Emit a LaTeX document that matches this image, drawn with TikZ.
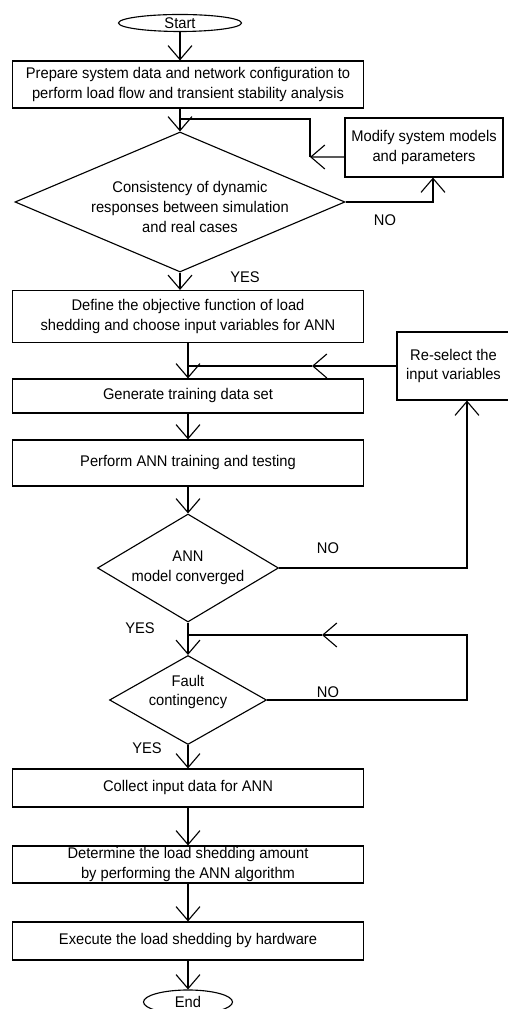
\documentclass[tikz,border=0pt]{standalone}
\usepackage{fontspec}
\setmainfont{Liberation Sans}[FakeStretch=0.95]
\usetikzlibrary{shapes.geometric,arrows.meta}

\begin{document}
\begin{tikzpicture}[x=1cm,y=1cm,line width=.8pt,font=\fontsize{11}{14.2}\selectfont,
  box/.style={draw,rectangle,minimum width=8.76cm,inner sep=0pt,align=center},
  decision/.style={draw,diamond,inner sep=0pt},
  terminal/.style={draw,ellipse,inner sep=0pt},
  arr/.style={-{Straight Barb[length=3.5mm,width=6mm]}},
  lbl/.style={inner sep=1pt}]
\useasboundingbox (0,0) rectangle (12.7,25.225);
\node[terminal,minimum width=3.075cm,minimum height=.425cm] (start) at (4.5000,24.6500) {Start};
\node[box,minimum height=1.175cm] (prep) at (4.7000,23.1125) {Prepare system data and network configuration to\\perform load flow and transient stability analysis};
\node[box,minimum width=3.95cm,minimum height=1.475cm] (modify) at (10.6000,21.5375) {Modify system models\\and parameters};
\node[decision,minimum width=8.25cm,minimum height=3.5cm,label={[align=center,xshift=2.5mm,yshift=-1.2mm]center:{Consistency of dynamic\\responses between simulation\\and real cases}}] (consist) at (4.5000,20.1750) {};
\node[box,minimum height=1.3cm] (define) at (4.7000,17.3125) {Define the objective function of load\\shedding and choose input variables for ANN};
\node[box,minimum height=.85cm] (gen) at (4.7000,15.3250) {Generate training data set};
\node[box,minimum width=2.825cm,minimum height=1.7cm] (resel) at (11.3375,16.0750) {Re-select the\\input variables};
\node[box,minimum height=1.15cm] (train) at (4.7000,13.6500) {Perform ANN training and testing};
\node[decision,minimum width=4.525cm,minimum height=2.7cm,label={[align=center]center:{ANN\\model converged}}] (conv) at (4.7000,11.0250) {};
\node[decision,minimum width=3.925cm,minimum height=2.225cm,label={[align=center,yshift=2mm]center:{Fault\\contingency}}] (fault) at (4.7000,7.7250) {};
\node[box,minimum height=.95cm] (collect) at (4.7000,5.5250) {Collect input data for ANN};
\node[box,minimum height=.925cm] (determ) at (4.7000,3.6125) {Determine the load shedding amount\\by performing the ANN algorithm};
\node[box,minimum height=.95cm] (exec) at (4.7000,1.7000) {Execute the load shedding by hardware};
\node[terminal,minimum width=2.225cm,minimum height=.6cm] (stop) at (4.7000,.1750) {End};
\coordinate (j1) at (4.5000,22.2500);
\coordinate (c1) at (7.7500,21.3000);
\coordinate (j2) at (4.7000,16.0750);
\coordinate (c2) at (7.8000,16.0750);
\coordinate (j3) at (4.7000,9.3500);
\coordinate (c3) at (8.0500,9.3500);
\coordinate (r3) at (11.6750,9.3500);
\draw[arr] (start.south) -- (start.south |- prep.north);
\draw[arr] (prep.south -| start) -- (consist.north);
\draw[arr] (consist.east) -| ([xshift=2.25mm]modify.south);
\draw[arr] ([yshift=-2.375mm]modify.west) -- (c1);
\draw (c1) |- (j1);
\draw[arr] (consist.south) -- (consist.south |- define.north);
\draw[arr] (define.south) -- (gen.north);
\draw[arr] (resel.west) -- (c2);
\draw (c2) -- (j2);
\draw[arr] (gen.south) -- (train.north);
\draw[arr] (train.south) -- (conv.north);
\draw[arr] (conv.east) -| ([xshift=3.375mm]resel.south);
\draw[arr] (conv.south) -- (fault.north);
\draw[arr] (fault.east) -| (r3) -- (c3);
\draw (c3) -- (j3);
\draw[arr] (fault.south) -- (collect.north);
\draw[arr] (collect.south) -- (determ.north);
\draw[arr] (determ.south) -- (exec.north);
\draw[arr] (exec.south) -- (stop.north);
\node[lbl] (no1) at (9.6250,19.7250) {NO};
\node[lbl] (yes1) at (6.1250,18.3000) {YES};
\node[lbl] (no2) at (8.2000,11.5250) {NO};
\node[lbl] (yes2) at (3.5000,9.5250) {YES};
\node[lbl] (no3) at (8.2000,7.9250) {NO};
\node[lbl] (yes3) at (3.6750,6.5250) {YES};
\end{tikzpicture}
\end{document}
